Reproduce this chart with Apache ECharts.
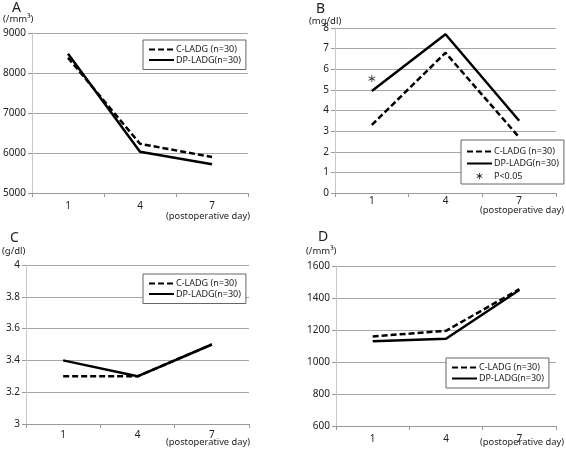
<!DOCTYPE html>
<html><head><meta charset="utf-8">
<script src="https://cdn.jsdelivr.net/npm/echarts@6/dist/echarts.min.js"></script>
<style>html,body{margin:0;padding:0;background:#fff}#c{width:566px;height:451px}</style>
</head><body><div id="c"></div>
<script>
const days = ['1', '4', '7'];
const seriesNames = ['C-LADG (n=30)', 'DP-LADG(n=30)'];
// Panel A: WBC (/mm3)
const aC = [8380, 6230, 5900];
const aDP = [8480, 6030, 5720];
const aTicks = [5000, 9000, 1000];
// Panel B: CRP (mg/dl)
const bC = [3.3, 6.8, 2.7];
const bDP = [4.95, 7.7, 3.5];
const bStar = [[0, 5.55]];
const bTicks = [0, 8, 1];
// Panel C: Albumin (g/dl)
const cC = [3.3, 3.3, 3.5];
const cDP = [3.4, 3.3, 3.5];
const cTicks = [3, 4, 0.2];
// Panel D: Lymphocytes (/mm3)
const dC = [1160, 1195, 1455];
const dDP = [1130, 1145, 1450];
const dTicks = [600, 1600, 200];

const FONT = 'Noto Sans';
const chart = echarts.init(document.getElementById('c'), null, {renderer: 'canvas'});

const grids = [
  {left: 32, top: 33, width: 216, height: 160},
  {left: 335, top: 28, width: 221, height: 165},
  {left: 26, top: 265, width: 223, height: 159},
  {left: 336, top: 266, width: 220, height: 160}
];
const ticks = [aTicks, bTicks, cTicks, dTicks];
const xLabelMargin = [8, 3, 6, 8];

const xAxes = grids.map((g, i) => ({
  type: 'category', gridIndex: i, data: days, boundaryGap: true,
  axisLine: {lineStyle: {color: '#999', width: 1}},
  axisTick: {show: true, length: 4, lineStyle: {color: '#999'}},
  axisLabel: {color: '#222', fontSize: 10, fontFamily: FONT, margin: xLabelMargin[i]}
}));
const yAxes = grids.map((g, i) => ({
  type: 'value', gridIndex: i, min: ticks[i][0], max: ticks[i][1], interval: ticks[i][2],
  axisLine: {show: true, lineStyle: {color: '#c8c8c8', width: 1}},
  axisTick: {show: true, length: 4, lineStyle: {color: '#999'}},
  splitLine: {lineStyle: {color: '#a6a6a6', width: 1}},
  axisLabel: {color: '#222', fontSize: 10, fontFamily: FONT, margin: 6,
    formatter: v => (i === 2 ? (Math.round(v * 10) / 10).toString() : v.toString())}
}));

const dashed = {color: '#000', width: 2.5, type: [6, 3]};
const solid = {color: '#000', width: 2.5, type: 'solid'};
function lineSeries(name, data, idx, style, z) {
  return {type: 'line', name, data, xAxisIndex: idx, yAxisIndex: idx,
    symbol: 'none', showSymbol: false, lineStyle: style, itemStyle: {color: '#000'},
    z, animation: false};
}
const asteriskPath = 'path://M4.4,0L5.6,0L5.6,10L4.4,10Z M0.37,3.02L0.97,1.98L9.63,6.98L9.03,8.02Z M0.37,6.98L9.03,1.98L9.63,3.02L0.97,8.02Z';
// legend icon: same asterisk inside a larger invisible bounding box so it renders small
const asteriskLegend = 'path://M0,0L0.01,0L0.01,0.01Z M18,16L17.99,16L17.99,15.99Z M8.4,3L9.6,3L9.6,13L8.4,13Z M4.37,6.02L4.97,4.98L13.63,9.98L13.03,11.02Z M4.37,9.98L13.03,4.98L13.63,6.02L4.97,11.02Z';

const series = [
  lineSeries(seriesNames[0], aC, 0, dashed, 3), lineSeries(seriesNames[1], aDP, 0, solid, 2),
  lineSeries(seriesNames[0], bC, 1, dashed, 3), lineSeries(seriesNames[1], bDP, 1, solid, 2),
  {type: 'scatter', name: 'P<0.05', data: bStar, xAxisIndex: 1, yAxisIndex: 1,
   symbol: asteriskPath, symbolSize: 7, itemStyle: {color: '#000'}, animation: false},
  lineSeries(seriesNames[0], cC, 2, dashed, 3), lineSeries(seriesNames[1], cDP, 2, solid, 2),
  lineSeries(seriesNames[0], dC, 3, dashed, 3), lineSeries(seriesNames[1], dDP, 3, solid, 2)
];

function legendAt(left, top, names, gap, pad) {
  return {
    left, top, orient: 'vertical', itemWidth: 25, itemHeight: 10, itemGap: gap,
    padding: pad, borderColor: '#666', borderWidth: 1, backgroundColor: '#fff',
    selectedMode: false,
    itemStyle: {opacity: 0},
    textStyle: {color: '#222', fontSize: 9, fontFamily: FONT, padding: [0, 0, 0, -3]},
    data: names.map(n => (n === 'P<0.05'
      ? {name: n, icon: asteriskLegend, itemStyle: {color: '#222', opacity: 1}}
      : {name: n}))
  };
}
const legends = [
  legendAt(143, 40, seriesNames, 1.5, [5, 5, 5, 5]),
  legendAt(461, 140, seriesNames.concat(['P<0.05']), 3, [7, 5, 3, 5]),
  legendAt(143, 274, seriesNames, 1.5, [5, 5, 5, 5]),
  legendAt(446, 358, seriesNames, 2, [5, 5, 5, 5])
];

const tstyle = {color: '#222', fontFamily: FONT, fontWeight: 'normal'};
function t(text, left, top, size) {
  return {text, left, top, padding: 0, textStyle: Object.assign({}, tstyle, {fontSize: size})};
}
const titles = [
  t('A', 12, 1, 14), t('(/mm³)', 3, 14, 9.5), t('(postoperative day)', 166, 212, 9.3),
  t('B', 316, 2, 14), t('(mg/dl)', 309, 16, 9.5), t('(postoperative day)', 480, 206, 9.3),
  t('C', 10, 231, 14), t('(g/dl)', 2, 246, 9.5), t('(postoperative day)', 166, 438, 9.3),
  t('D', 318, 230, 14), t('(/mm³)', 306, 246, 9.5), t('(postoperative day)', 480, 438, 9.3)
];

chart.setOption({
  animation: false,
  backgroundColor: '#fff',
  title: titles,
  grid: grids,
  xAxis: xAxes,
  yAxis: yAxes,
  legend: legends,
  series
});
</script></body></html>
